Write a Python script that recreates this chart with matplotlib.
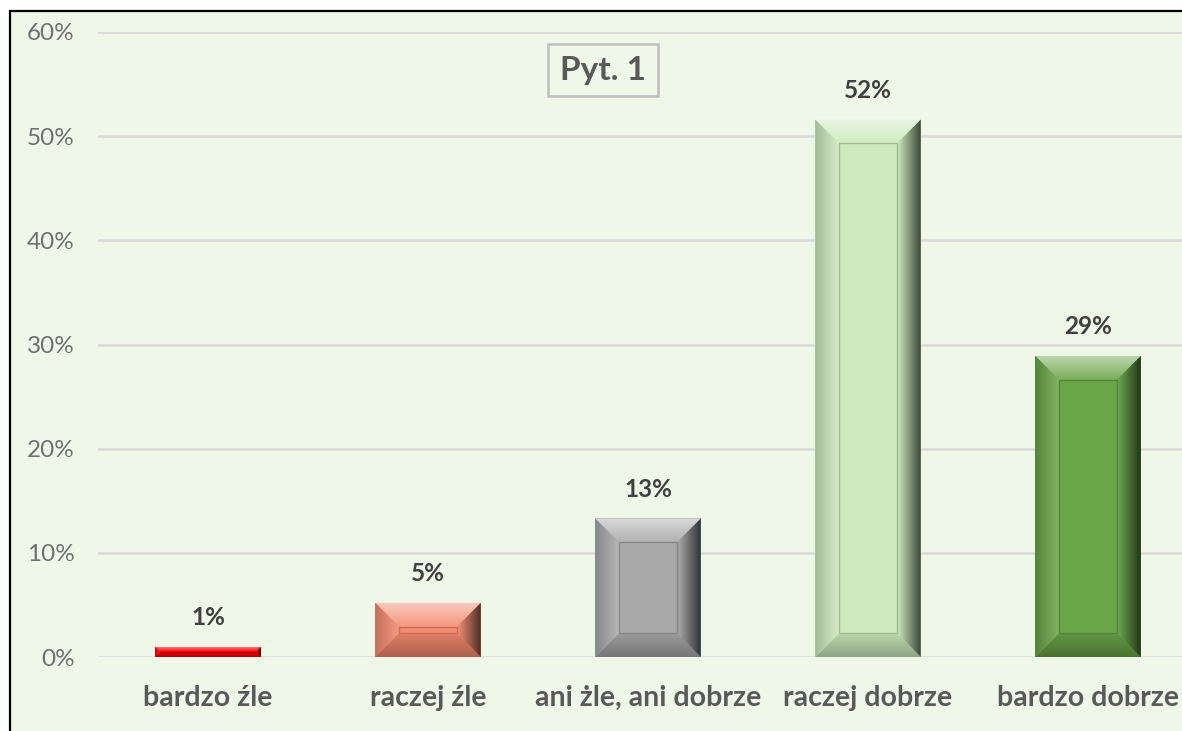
import numpy as np
import matplotlib
matplotlib.use("Agg")
import matplotlib.pyplot as plt
from matplotlib.patches import Rectangle, Polygon
from matplotlib.colors import to_rgb

plt.rcParams['font.family'] = ['Lato', 'DejaVu Sans']

# dane
kategorie = ['bardzo źle', 'raczej źle', 'ani żle, ani dobrze', 'raczej dobrze', 'bardzo dobrze']
wartosci = [0.0096, 0.052, 0.133, 0.516, 0.289]
etykiety = ['1%', '5%', '13%', '52%', '29%']
y_ticks = [0.0, 0.1, 0.2, 0.3, 0.4, 0.5, 0.6]
y_tick_labels = ['0%', '10%', '20%', '30%', '40%', '50%', '60%']
tytul = 'Pyt. 1'

kolory = ['#FF0000', '#F58B70', '#A9A9A9', '#CDEABD', '#6AA548']
TLO = '#EFF7E9'

W, H = 1182, 731
fig = plt.figure(figsize=(W / 100, H / 100), dpi=100)
fig.patch.set_facecolor('white')

# ramka wykresu (przycieta z prawej i z dolu)
ramka = Rectangle((10 / W, -0.05), 1.1, 1 - 11 / H + 0.05, transform=fig.transFigure,
                  facecolor=TLO, edgecolor='black', lw=1.6, zorder=-5)
fig.add_artist(ramka)

ax = fig.add_axes([98 / W, (H - 657) / H, 1100 / W, 625 / H])
ax.set_facecolor('none')
for s in ax.spines.values():
    s.set_visible(False)

x = np.arange(len(kategorie))
szer = 0.48
ax.set_xlim(-0.5, len(kategorie) - 0.5)
ax.set_ylim(0, 0.6)


def mieszaj(c, t, k):
    c = np.array(to_rgb(c))
    return c + (np.array(to_rgb(k)) - c) * t


def gradient(poly, c0, c1, kierunek):
    # c0 -> c1 wzdluz osi x ('h') lub y ('v')
    pts = np.array(poly)
    l, r = pts[:, 0].min(), pts[:, 0].max()
    b, t = pts[:, 1].min(), pts[:, 1].max()
    n = 48
    s = np.linspace(0, 1, n)[:, None]
    cols = np.array(c0)[None, :] * (1 - s) + np.array(c1)[None, :] * s
    cols = np.clip(cols, 0, 1)
    if kierunek == 'h':
        arr = cols[None, :, :]
    else:
        arr = cols[:, None, :]
    im = ax.imshow(arr, extent=(l, r, b, t), origin='lower', aspect='auto',
                   interpolation='bilinear', zorder=3)
    p = Polygon(poly, closed=True, facecolor='none', edgecolor='none',
                transform=ax.transData)
    ax.add_patch(p)
    im.set_clip_path(p)


# piksele na jednostke
px_x = 1100 / len(kategorie)
px_y = 625 / 0.6

bars = ax.bar(x, wartosci, width=szer, color=kolory, zorder=2)
for rect, c in zip(bars, kolory):
    L = rect.get_x()
    R = L + rect.get_width()
    B = 0
    T = rect.get_height()
    b_px = min(24, T * px_y / 2 - 0.5)
    bx = b_px / px_x
    by = b_px / px_y
    gora = [(L, T), (R, T), (R - bx, T - by), (L + bx, T - by)]
    dol = [(L, B), (R, B), (R - bx, B + by), (L + bx, B + by)]
    lewo = [(L, B), (L, T), (L + bx, T - by), (L + bx, B + by)]
    prawo = [(R, B), (R, T), (R - bx, T - by), (R - bx, B + by)]
    gradient(gora, mieszaj(c, 0.1, 'white'), mieszaj(c, 0.55, 'white'), 'v')
    gradient(dol, mieszaj(c, 0.3, 'black'), mieszaj(c, 0.08, 'black'), 'v')
    gradient(lewo, mieszaj(c, 0.2, 'black'), mieszaj(c, 0.15, 'white'), 'h')
    gradient(prawo, mieszaj(c, 0.05, 'white'), mieszaj(c, 0.7, 'black'), 'h')
    ax.add_patch(Rectangle((L + bx, B + by), R - L - 2 * bx, T - B - 2 * by,
                           facecolor=c, edgecolor=mieszaj(c, 0.2, 'black'), lw=1, zorder=4))

for xi, v, lab in zip(x, wartosci, etykiety):
    ax.annotate(lab, (xi, v), xytext=(0, 21), textcoords='offset points',
                ha='center', va='center', fontsize=17.5, fontweight='bold', color='#404040')

ax.set_yticks(y_ticks)
ax.set_yticklabels(y_tick_labels)
ax.set_xticks(x)
ax.set_xticklabels(kategorie, fontweight='bold')
ax.tick_params(axis='y', length=0, pad=17, labelsize=17.5, labelcolor='#707070')
ax.tick_params(axis='x', length=0, pad=20, labelsize=20.5, labelcolor='#595959')
ax.grid(axis='y', color='#D9D9D9', lw=1.8, zorder=0)
ax.set_axisbelow(True)

ax.text(0.459, 0.939, tytul, transform=ax.transAxes, ha='center', va='center',
        fontsize=24, fontweight='bold', color='#595959',
        bbox=dict(boxstyle='square,pad=0.35', facecolor='none', edgecolor='#BFBFBF', lw=1.8))

ax.set_xlim(-0.5, len(kategorie) - 0.5)
ax.set_ylim(0, 0.6)

fig.savefig('out.png', dpi=100)
